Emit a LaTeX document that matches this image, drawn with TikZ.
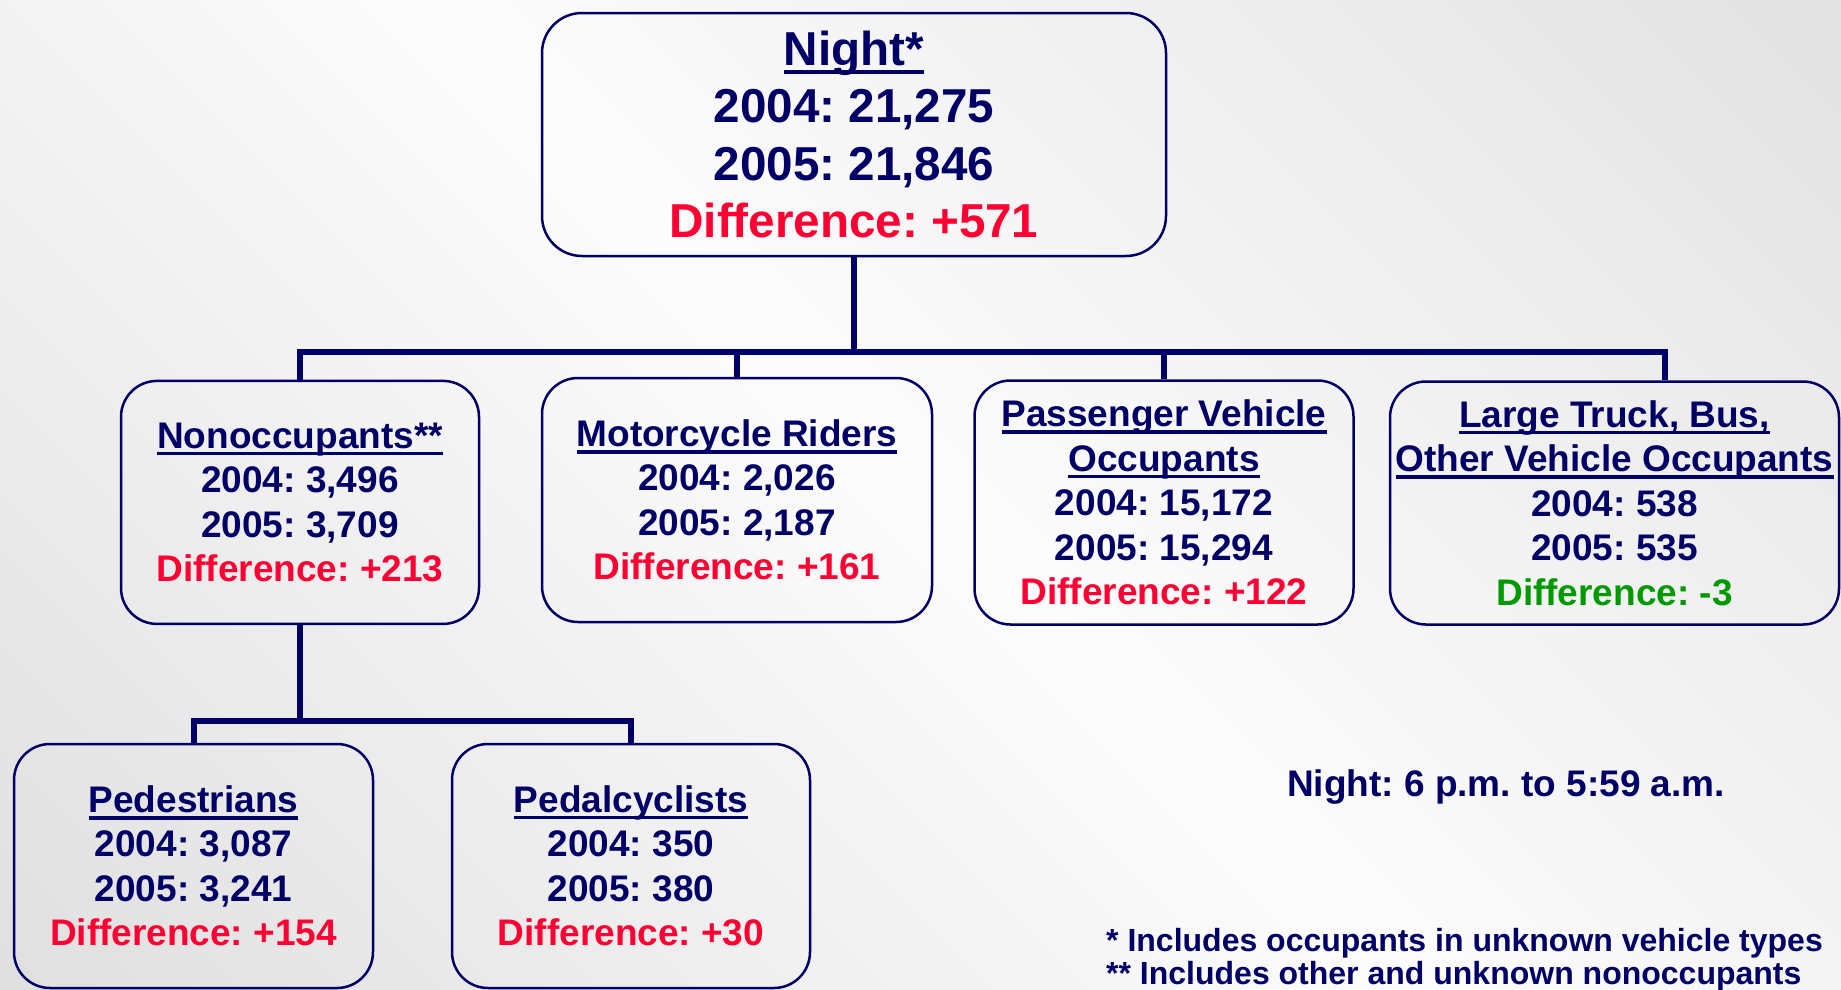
\documentclass[tikz,border=0pt]{standalone}
\usepackage{fontspec}
\setmainfont{Liberation Sans}
\frenchspacing
\definecolor{navy}{RGB}{0,0,102}
\definecolor{dred}{RGB}{255,0,51}
\definecolor{dgreen}{RGB}{0,153,0}
\definecolor{bgA}{RGB}{212,212,212}
\definecolor{bgM}{RGB}{252,252,252}
\definecolor{bgB}{RGB}{216,216,216}
\pgfdeclarehorizontalshading{bgshade}{100bp}{color(0bp)=(bgA); color(50bp)=(bgM); color(100bp)=(bgB)}
\newcommand\myul[1]{\setbox0=\hbox{#1}\rlap{\rule[-0.19em]{\wd0}{0.1em}}\box0}
\begin{document}
\begin{tikzpicture}[x=1pt,y=-1pt,
  box/.style={draw=navy, line width=2.5pt, rounded corners=36pt, rectangle, inner sep=0pt,
    align=center, text=navy, font=\fontsize{37}{44.5}\selectfont\bfseries},
  bigbox/.style={box, rounded corners=40pt, font=\fontsize{47.6}{57.5}\selectfont\bfseries},
  conn/.style={draw=navy, line width=6pt},
  note/.style={text=navy, inner sep=0pt, font=\fontsize{37}{44.5}\selectfont\bfseries},
  foot/.style={text=navy, inner sep=0pt, font=\fontsize{32}{35}\selectfont\bfseries},
  ]
\useasboundingbox (0,0) rectangle (1841,989);
\shade[shading=bgshade, shading angle=45] (0,0) rectangle (1841,989);

\node[bigbox, minimum width=624pt, minimum height=243pt] (top) at (854,134.5)
  {\myul{Night*}\\2004: 21,275\\2005: 21,846\\\textcolor{dred}{Difference: +571}};

\node[box, minimum width=358pt, minimum height=243pt] (nonocc) at (300,502.4)
  {\myul{Nonoccupants**}\\2004: 3,496\\2005: 3,709\\\textcolor{dred}{Difference: +213}};
\node[box, minimum width=390pt, minimum height=244pt] (moto) at (737,500)
  {\myul{Motorcycle Riders}\\2004: 2,026\\2005: 2,187\\\textcolor{dred}{Difference: +161}};
\node[box, minimum width=379pt, minimum height=244pt] (pass) at (1164,502.5)
  {\myul{Passenger Vehicle}\\\myul{Occupants}\\2004: 15,172\\2005: 15,294\\\textcolor{dred}{Difference: +122}};
\node[box, minimum width=449pt, minimum height=243pt] (truck) at (1614.5,503)
  {\myul{Large Truck, Bus,}\\\myul{Other Vehicle Occupants}\\2004: 538\\2005: 535\\\textcolor{dgreen}{Difference: -3}};

\node[box, minimum width=359pt, minimum height=244pt] (ped) at (193.5,866)
  {\myul{Pedestrians}\\2004: 3,087\\2005: 3,241\\\textcolor{dred}{Difference: +154}};
\node[box, minimum width=358pt, minimum height=244pt] (pedal) at (631,866)
  {\myul{Pedalcyclists}\\2004: 350\\2005: 380\\\textcolor{dred}{Difference: +30}};

\coordinate (bl) at (300,352);
\coordinate (br) at (1665,352);
\coordinate (sb) at (300,721);

\draw[conn] (top.south) -- (top.south |- bl);
\draw[conn, line join=miter] (nonocc.north) -- (bl) -- (br) -- (br |- truck.north);
\draw[conn] (moto.north) -- (moto.north |- bl);
\draw[conn] (pass.north) -- (pass.north |- bl);

\draw[conn] (nonocc.south) -- (sb);
\draw[conn, line join=miter] (ped.north) -- (ped.north |- sb) -- (pedal.north |- sb) -- (pedal.north);

\node[note, anchor=base] (nightnote) at (1506,796) {Night: 6 p.m. to 5:59 a.m.};
\node[foot, anchor=base west] (foot1) at (1106,951) {* Includes occupants in unknown vehicle types};
\node[foot, anchor=base west] (foot2) at (1106,984) {** Includes other and unknown nonoccupants};
\end{tikzpicture}
\end{document}
